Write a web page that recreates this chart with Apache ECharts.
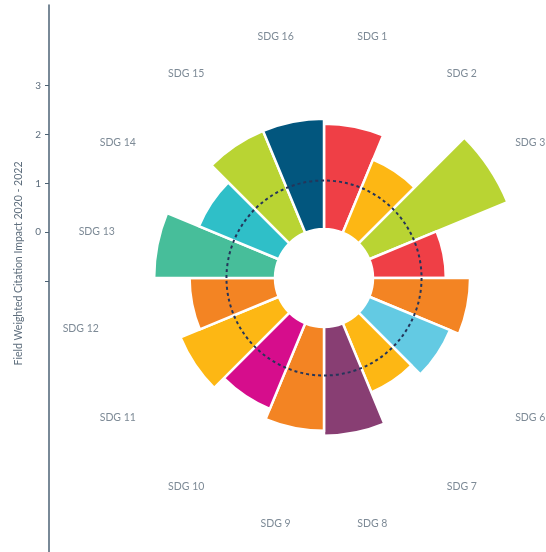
<!DOCTYPE html>
<html>
<head>
<meta charset="utf-8">
<script src="https://cdn.jsdelivr.net/npm/echarts@6/dist/echarts.min.js"></script>
<style>
html,body{margin:0;padding:0;background:#fff;}
#chart{width:546px;height:552px;}
</style>
</head>
<body>
<div id="chart"></div>
<script>
// ---- data ----
const categories = ['SDG 1','SDG 2','SDG 3','SDG 4','SDG 5','SDG 6','SDG 7','SDG 8',
                    'SDG 9','SDG 10','SDG 11','SDG 12','SDG 13','SDG 14','SDG 15','SDG 16'];
const fwci = [2.17, 1.63, 3.08, 1.50, 2.00, 1.80, 1.54, 2.24,
              2.14, 1.91, 2.19, 1.76, 2.49, 1.78, 2.27, 2.27];
const barColors = ['#EF3F46','#FDB714','#B9D433','#EF3F46','#F38423','#63CAE3','#FDB714','#883E73',
                   '#F38423','#D60D8C','#FDB714','#F38423','#47BE9A','#2FBFC8','#B9D433','#02567E'];
const yTickValues = [-1, 0, 1, 2, 3];
const yLabelValues = [0, 1, 2, 3];
const axisTitle = 'Field Weighted Citation Impact 2020 - 2022';

const LABEL_R = 4.1;
const textColor = '#5d6d7c';
const font = 'Lato, "Open Sans", sans-serif';

const chart = echarts.init(document.getElementById('chart'), null, {renderer: 'canvas'});
chart.setOption({
  animation: false,
  backgroundColor: '#ffffff',
  grid: {left: 49, top: 5, bottom: 0, width: 10, containLabel: false},
  xAxis: {type: 'value', show: false, min: 0, max: 1},
  yAxis: {
    type: 'value', min: -6.55, max: 4.652,
    axisLine: {show: true, lineStyle: {color: '#4c6274', width: 1.5}},
    axisTick: {show: true, length: 4, customValues: yTickValues, lineStyle: {color: '#4c6274', width: 1}},
    axisLabel: {show: true, customValues: yLabelValues, color: textColor, fontSize: 10, margin: 8, fontFamily: font},
    splitLine: {show: false},
    name: axisTitle, nameLocation: 'middle', nameGap: 25,
    nameTextStyle: {color: textColor, fontSize: 10.5, fontFamily: font, padding: [0, 0, 0, 30]}
  },
  polar: {center: [324, 278], radius: [49, 248]},
  angleAxis: {
    type: 'category', data: categories, startAngle: 90, clockwise: true,
    axisLine: {show: false}, axisTick: {show: false}, axisLabel: {show: false}, splitLine: {show: false}
  },
  radiusAxis: {
    type: 'value', min: 0, max: LABEL_R, interval: 1, z: 10,
    axisLine: {show: false}, axisTick: {show: false}, axisLabel: {show: false},
    splitLine: {show: true, lineStyle: {
      color: ['rgba(0,0,0,0)', '#24355a', 'rgba(0,0,0,0)', 'rgba(0,0,0,0)', 'rgba(0,0,0,0)', 'rgba(0,0,0,0)'],
      width: 2, type: [3, 3]
    }}
  },
  series: [
    {
      type: 'bar', coordinateSystem: 'polar', barCategoryGap: '0%',
      data: fwci.map((v, i) => ({value: v, itemStyle: {color: barColors[i]}})),
      itemStyle: {borderColor: '#ffffff', borderWidth: 2.5},
      z: 2
    },
    {
      type: 'scatter', coordinateSystem: 'polar', symbolSize: 0,
      data: categories.map(c => ({
        name: c, value: [LABEL_R, c],
        label: c === 'SDG 13' ? {offset: [16, 2]} : undefined
      })),
      label: {show: true, position: 'inside', formatter: '{b}', color: textColor,
              fontSize: 10.5, fontFamily: font, offset: [0, 2]},
      silent: true
    }
  ]
});
</script>
</body>
</html>
